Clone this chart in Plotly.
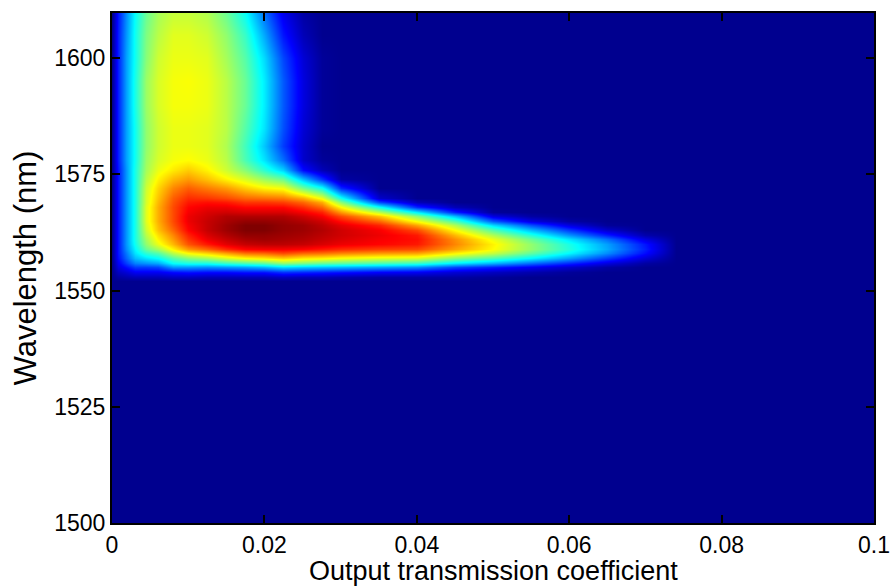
import plotly.graph_objects as go

# Output transmission coefficient (columns of the map)
coupling = [0, 0.0008, 0.0018, 0.003, 0.0045, 0.006, 0.008, 0.010, 0.0125,
            0.015, 0.0175, 0.020, 0.0225, 0.025, 0.0275, 0.030, 0.035, 0.040,
            0.045, 0.050, 0.055, 0.060, 0.065, 0.070, 0.074, 0.100]

# Wavelength in nm (rows of the map)
wavelength = [1500, 1552, 1553, 1554, 1555, 1556, 1557, 1558, 1559, 1560,
              1561, 1562, 1563, 1564, 1565, 1566, 1567, 1568, 1569, 1570,
              1572, 1574, 1576, 1578, 1581, 1585, 1590, 1595, 1600, 1605, 1610]

# Normalised output power, one row per wavelength
power = [
    [0] * 26,
    [0] * 26,
    [0, 0.02, 0.03, 0.04, 0.04, 0.04, 0.05, 0.05, 0.04, 0.04, 0.04, 0.04, 0.05, 0.04, 0.04, 0.03, 0.02, 0.02, 0.02, 0.01, 0, 0, 0, 0, 0, 0],
    [0, 0.05, 0.07, 0.10, 0.10, 0.10, 0.12, 0.13, 0.12, 0.12, 0.13, 0.13, 0.16, 0.15, 0.14, 0.13, 0.11, 0.10, 0.07, 0.05, 0.03, 0.01, 0, 0, 0, 0],
    [0, 0.08, 0.12, 0.17, 0.17, 0.18, 0.26, 0.26, 0.25, 0.26, 0.27, 0.29, 0.33, 0.31, 0.30, 0.29, 0.27, 0.25, 0.18, 0.14, 0.10, 0.06, 0.02, 0, 0, 0],
    [0, 0.10, 0.17, 0.24, 0.26, 0.28, 0.37, 0.39, 0.39, 0.42, 0.44, 0.46, 0.51, 0.49, 0.47, 0.46, 0.44, 0.42, 0.35, 0.29, 0.22, 0.15, 0.08, 0.02, 0, 0],
    [0, 0.12, 0.21, 0.30, 0.34, 0.37, 0.45, 0.50, 0.53, 0.58, 0.62, 0.64, 0.67, 0.64, 0.63, 0.61, 0.59, 0.58, 0.50, 0.44, 0.36, 0.27, 0.17, 0.07, 0, 0],
    [0, 0.13, 0.23, 0.34, 0.41, 0.45, 0.55, 0.62, 0.66, 0.71, 0.76, 0.77, 0.80, 0.77, 0.76, 0.74, 0.72, 0.71, 0.63, 0.56, 0.46, 0.36, 0.25, 0.12, 0, 0],
    [0, 0.13, 0.25, 0.36, 0.47, 0.53, 0.63, 0.72, 0.77, 0.83, 0.87, 0.88, 0.88, 0.87, 0.85, 0.83, 0.81, 0.80, 0.71, 0.62, 0.51, 0.40, 0.28, 0.14, 0, 0],
    [0, 0.13, 0.26, 0.38, 0.51, 0.60, 0.69, 0.79, 0.85, 0.90, 0.93, 0.94, 0.94, 0.93, 0.91, 0.89, 0.87, 0.85, 0.74, 0.63, 0.51, 0.39, 0.27, 0.13, 0, 0],
    [0, 0.13, 0.26, 0.39, 0.53, 0.63, 0.72, 0.82, 0.89, 0.93, 0.96, 0.97, 0.96, 0.95, 0.93, 0.91, 0.88, 0.86, 0.73, 0.60, 0.47, 0.34, 0.22, 0.08, 0, 0],
    [0, 0.13, 0.26, 0.39, 0.55, 0.65, 0.74, 0.84, 0.91, 0.95, 0.98, 0.98, 0.97, 0.96, 0.94, 0.92, 0.89, 0.85, 0.69, 0.54, 0.40, 0.26, 0.14, 0.03, 0, 0],
    [0, 0.13, 0.26, 0.39, 0.57, 0.68, 0.77, 0.87, 0.93, 0.97, 1.00, 1.00, 0.98, 0.97, 0.95, 0.92, 0.88, 0.80, 0.62, 0.45, 0.30, 0.17, 0.06, 0, 0, 0],
    [0, 0.13, 0.26, 0.39, 0.58, 0.69, 0.79, 0.88, 0.93, 0.97, 1.00, 1.00, 0.98, 0.97, 0.94, 0.90, 0.84, 0.71, 0.54, 0.33, 0.19, 0.08, 0.01, 0, 0, 0],
    [0, 0.13, 0.26, 0.39, 0.59, 0.70, 0.80, 0.89, 0.93, 0.96, 0.98, 0.98, 0.97, 0.95, 0.92, 0.86, 0.77, 0.61, 0.44, 0.20, 0.08, 0.02, 0, 0, 0, 0],
    [0, 0.13, 0.26, 0.39, 0.59, 0.70, 0.80, 0.89, 0.92, 0.95, 0.95, 0.95, 0.95, 0.92, 0.88, 0.80, 0.68, 0.50, 0.30, 0.08, 0.02, 0, 0, 0, 0, 0],
    [0, 0.13, 0.26, 0.39, 0.59, 0.70, 0.80, 0.88, 0.91, 0.92, 0.91, 0.91, 0.91, 0.88, 0.84, 0.72, 0.55, 0.35, 0.14, 0.01, 0, 0, 0, 0, 0, 0],
    [0, 0.13, 0.26, 0.39, 0.59, 0.70, 0.80, 0.87, 0.89, 0.89, 0.87, 0.87, 0.87, 0.83, 0.77, 0.62, 0.38, 0.15, 0.04, 0, 0, 0, 0, 0, 0, 0],
    [0, 0.13, 0.26, 0.39, 0.58, 0.69, 0.79, 0.85, 0.86, 0.85, 0.82, 0.82, 0.81, 0.77, 0.70, 0.50, 0.18, 0.04, 0, 0, 0, 0, 0, 0, 0, 0],
    [0, 0.13, 0.26, 0.39, 0.58, 0.68, 0.78, 0.83, 0.82, 0.80, 0.77, 0.76, 0.75, 0.70, 0.60, 0.38, 0.06, 0, 0, 0, 0, 0, 0, 0, 0, 0],
    [0, 0.13, 0.26, 0.39, 0.57, 0.66, 0.74, 0.78, 0.75, 0.72, 0.67, 0.63, 0.61, 0.48, 0.38, 0.15, 0, 0, 0, 0, 0, 0, 0, 0, 0, 0],
    [0, 0.13, 0.26, 0.39, 0.55, 0.63, 0.69, 0.72, 0.68, 0.63, 0.58, 0.52, 0.47, 0.30, 0.16, 0.02, 0, 0, 0, 0, 0, 0, 0, 0, 0, 0],
    [0, 0.13, 0.26, 0.39, 0.53, 0.60, 0.64, 0.67, 0.63, 0.57, 0.50, 0.41, 0.32, 0.12, 0.04, 0, 0, 0, 0, 0, 0, 0, 0, 0, 0, 0],
    [0, 0.14, 0.27, 0.38, 0.52, 0.58, 0.61, 0.62, 0.60, 0.55, 0.44, 0.34, 0.22, 0.06, 0.01, 0, 0, 0, 0, 0, 0, 0, 0, 0, 0, 0],
    [0, 0.14, 0.27, 0.38, 0.51, 0.57, 0.60, 0.60, 0.59, 0.54, 0.43, 0.31, 0.17, 0.06, 0, 0, 0, 0, 0, 0, 0, 0, 0, 0, 0, 0],
    [0, 0.14, 0.27, 0.38, 0.51, 0.57, 0.60, 0.60, 0.59, 0.55, 0.45, 0.34, 0.19, 0.07, 0.01, 0, 0, 0, 0, 0, 0, 0, 0, 0, 0, 0],
    [0, 0.14, 0.27, 0.39, 0.52, 0.58, 0.61, 0.61, 0.60, 0.55, 0.47, 0.35, 0.20, 0.08, 0.01, 0, 0, 0, 0, 0, 0, 0, 0, 0, 0, 0],
    [0, 0.14, 0.27, 0.39, 0.52, 0.58, 0.61, 0.615, 0.60, 0.55, 0.47, 0.35, 0.20, 0.08, 0.01, 0, 0, 0, 0, 0, 0, 0, 0, 0, 0, 0],
    [0, 0.14, 0.27, 0.38, 0.50, 0.57, 0.60, 0.60, 0.59, 0.53, 0.45, 0.33, 0.18, 0.07, 0.01, 0, 0, 0, 0, 0, 0, 0, 0, 0, 0, 0],
    [0, 0.14, 0.26, 0.38, 0.49, 0.55, 0.59, 0.59, 0.57, 0.51, 0.42, 0.28, 0.13, 0.04, 0, 0, 0, 0, 0, 0, 0, 0, 0, 0, 0, 0],
    [0, 0.13, 0.25, 0.37, 0.47, 0.53, 0.56, 0.56, 0.54, 0.47, 0.37, 0.22, 0.09, 0.02, 0, 0, 0, 0, 0, 0, 0, 0, 0, 0, 0, 0],
]

x_ticks = [0, 0.02, 0.04, 0.06, 0.08, 0.1]
x_tick_text = ["0", "0.02", "0.04", "0.06", "0.08", "0.1"]
y_ticks = [1500, 1525, 1550, 1575, 1600]

# MATLAB-style "jet" colour map
jet = [
    [0.0, "rgb(0,0,143)"],
    [0.111, "rgb(0,0,255)"],
    [0.365, "rgb(0,255,255)"],
    [0.619, "rgb(255,255,0)"],
    [0.873, "rgb(255,0,0)"],
    [1.0, "rgb(128,0,0)"],
]

fig = go.Figure(
    go.Heatmap(
        x=coupling,
        y=wavelength,
        z=power,
        zmin=0,
        zmax=1,
        colorscale=jet,
        zsmooth="best",
        showscale=False,
        hoverinfo="skip",
    )
)

font_family = "Liberation Sans, Arial, Helvetica, sans-serif"
axis_common = dict(
    showline=True,
    linecolor="black",
    linewidth=2,
    mirror="ticks",
    ticks="inside",
    ticklen=8,
    tickwidth=2,
    tickcolor="black",
    showgrid=False,
    zeroline=False,
    tickfont=dict(family=font_family, size=23, color="black"),
)

fig.update_xaxes(
    range=[0, 0.1],
    tickvals=x_ticks,
    ticktext=x_tick_text,
    **axis_common,
)
fig.update_yaxes(
    range=[1500, 1609.7],
    tickvals=y_ticks,
    title=dict(text="Wavelength (nm)",
               font=dict(family=font_family, size=31, color="black"),
               standoff=8),
    **axis_common,
)

# x-axis title placed just under the tick labels
fig.add_annotation(
    text="Output transmission coefficient",
    xref="paper", yref="paper",
    x=0.5, y=-0.063,
    xanchor="center", yanchor="top",
    showarrow=False,
    borderpad=0,
    font=dict(family=font_family, size=27, color="black"),
)

fig.update_layout(
    width=891,
    height=588,
    margin=dict(l=112, r=17, t=13, b=65, autoexpand=False),
    paper_bgcolor="white",
    plot_bgcolor="rgb(0,0,143)",
    font=dict(family=font_family, color="black"),
)

fig.write_html("out.html")
